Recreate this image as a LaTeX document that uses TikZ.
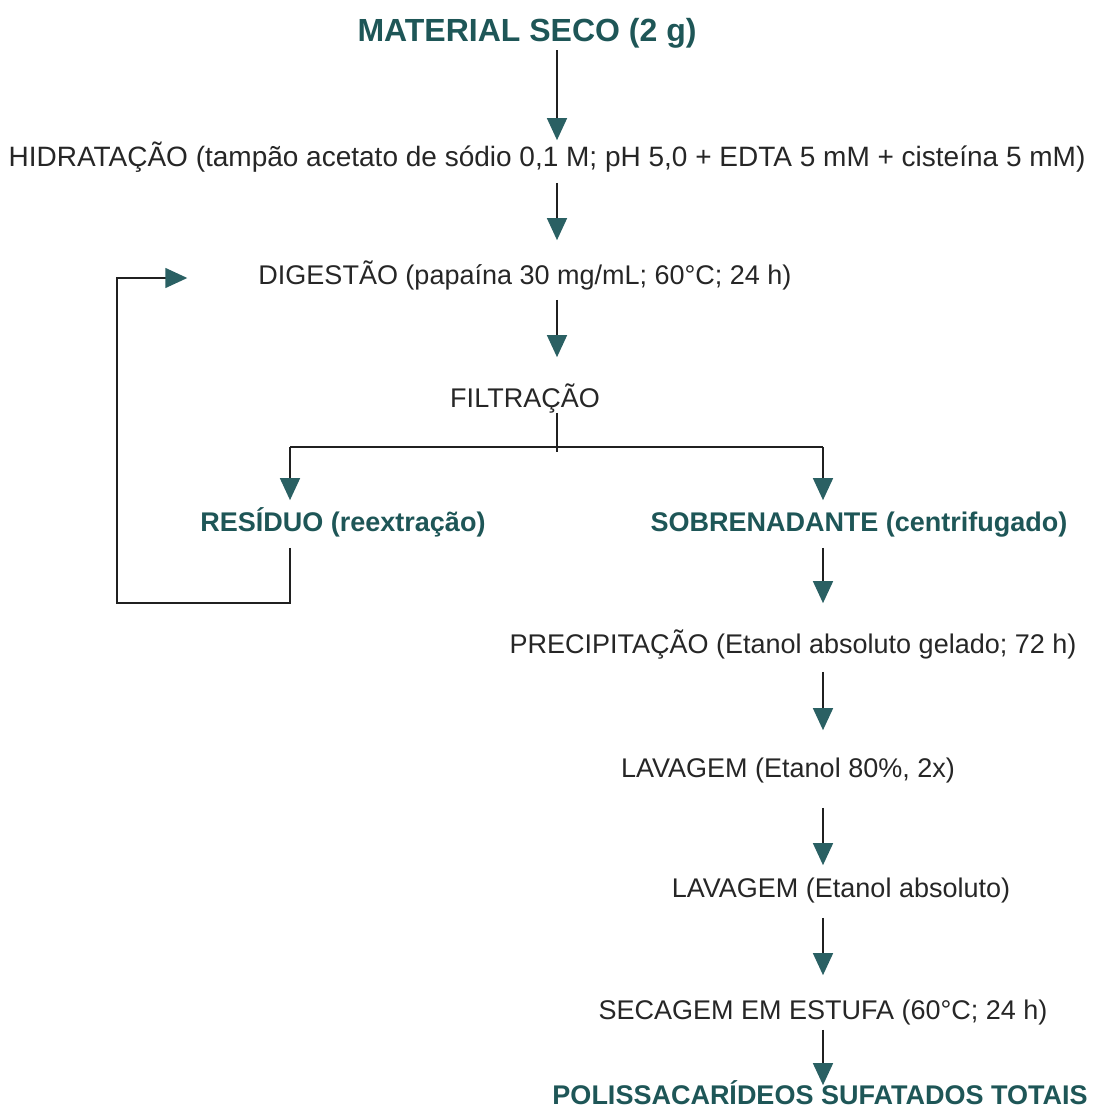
\documentclass[tikz,border=0pt]{standalone}
\usepackage{fontspec}
\setmainfont{Liberation Sans}
\usetikzlibrary{arrows.meta}
\definecolor{tealtxt}{HTML}{1E5657}
\definecolor{arrc}{HTML}{2A6063}
\definecolor{txtc}{HTML}{262626}
\definecolor{linec}{HTML}{202020}
\tikzset{
  lbl/.style={inner sep=0pt, text height=19.3pt, text depth=0pt, text=txtc,
    font=\fontsize{27}{30}\selectfont},
  boldlbl/.style={lbl, text=tealtxt, font=\fontsize{27}{30}\selectfont\bfseries},
  titlelbl/.style={inner sep=0pt, text height=22.9pt, text depth=0pt, text=tealtxt,
    font=\fontsize{32}{36}\selectfont\bfseries},
  conn/.style={draw=linec, line width=1.5pt},
  arr/.style={conn, -{Triangle[width=20pt,length=22pt,color=arrc,fill=arrc]}}
}
\begin{document}
\begin{tikzpicture}[x=1pt,y=-1pt]
\useasboundingbox (0,0) rectangle (1094,1110);
% nodes
\node[titlelbl] (mat) at (527,30) {MATERIAL SECO (2 g)};
\node[lbl, font=\fontsize{28}{31}\selectfont] (hid) at (547,157) {HIDRATAÇÃO (tampão acetato de sódio 0,1 M; pH 5,0 + EDTA 5 mM + cisteína 5 mM)};
\node[lbl] (dig) at (525,275) {DIGESTÃO (papaína 30 mg/mL; 60°C; 24 h)};
\node[lbl] (filt) at (525,398) {FILTRAÇÃO};
\node[boldlbl] (res) at (343,522) {RESÍDUO (reextração)};
\node[boldlbl] (sob) at (859,522) {SOBRENADANTE (centrifugado)};
\node[lbl] (prec) at (793,644) {PRECIPITAÇÃO (Etanol absoluto gelado; 72 h)};
\node[lbl] (lava) at (788,768) {LAVAGEM (Etanol 80\%, 2x)};
\node[lbl] (lavb) at (841,888) {LAVAGEM (Etanol absoluto)};
\node[lbl] (sec) at (823,1010) {SECAGEM EM ESTUFA (60°C; 24 h)};
\node[boldlbl] (pol) at (820,1095) {POLISSACARÍDEOS SUFATADOS TOTAIS};
% column coordinates
\coordinate (ax) at (557,0);
\coordinate (bx) at (823,0);
\coordinate (bj) at (557,452);
\coordinate (bl) at (290,447);
\coordinate (br) at (823,447);
\coordinate (lc) at (117,603);
% connectors
\draw[arr] ([yshift=-8.5pt]mat.south -| ax) -- ([yshift=7pt]hid.north -| ax);
\draw[arr] ([yshift=-16pt]hid.south -| ax) -- ([yshift=25pt]dig.north -| ax);
\draw[arr] ([yshift=-15pt]dig.south -| ax) -- ([yshift=31pt]filt.north -| ax);
\draw[conn] ([yshift=-5pt]filt.south -| ax) -- (bj);
\draw[conn] (bl) -- (br);
\draw[arr] (bl) -- ([yshift=12pt]res.north -| bl);
\draw[arr] (br) -- ([yshift=12pt]sob.north -| br);
\draw[arr] ([yshift=-16pt]res.south -| bl) |- (lc) |- ([xshift=-71pt,yshift=-3pt]dig.west);
\draw[arr] ([yshift=-16pt]sob.south -| bx) -- ([yshift=31pt]prec.north -| bx);
\draw[arr] ([yshift=-18pt]prec.south -| bx) -- ([yshift=28pt]lava.north -| bx);
\draw[arr] ([yshift=-30pt]lava.south -| bx) -- ([yshift=13pt]lavb.north -| bx);
\draw[arr] ([yshift=-20pt]lavb.south -| bx) -- ([yshift=25pt]sec.north -| bx);
\draw[arr] ([yshift=-10pt]sec.south -| bx) -- ([yshift=0pt]pol.north -| bx);
\end{tikzpicture}
\end{document}
